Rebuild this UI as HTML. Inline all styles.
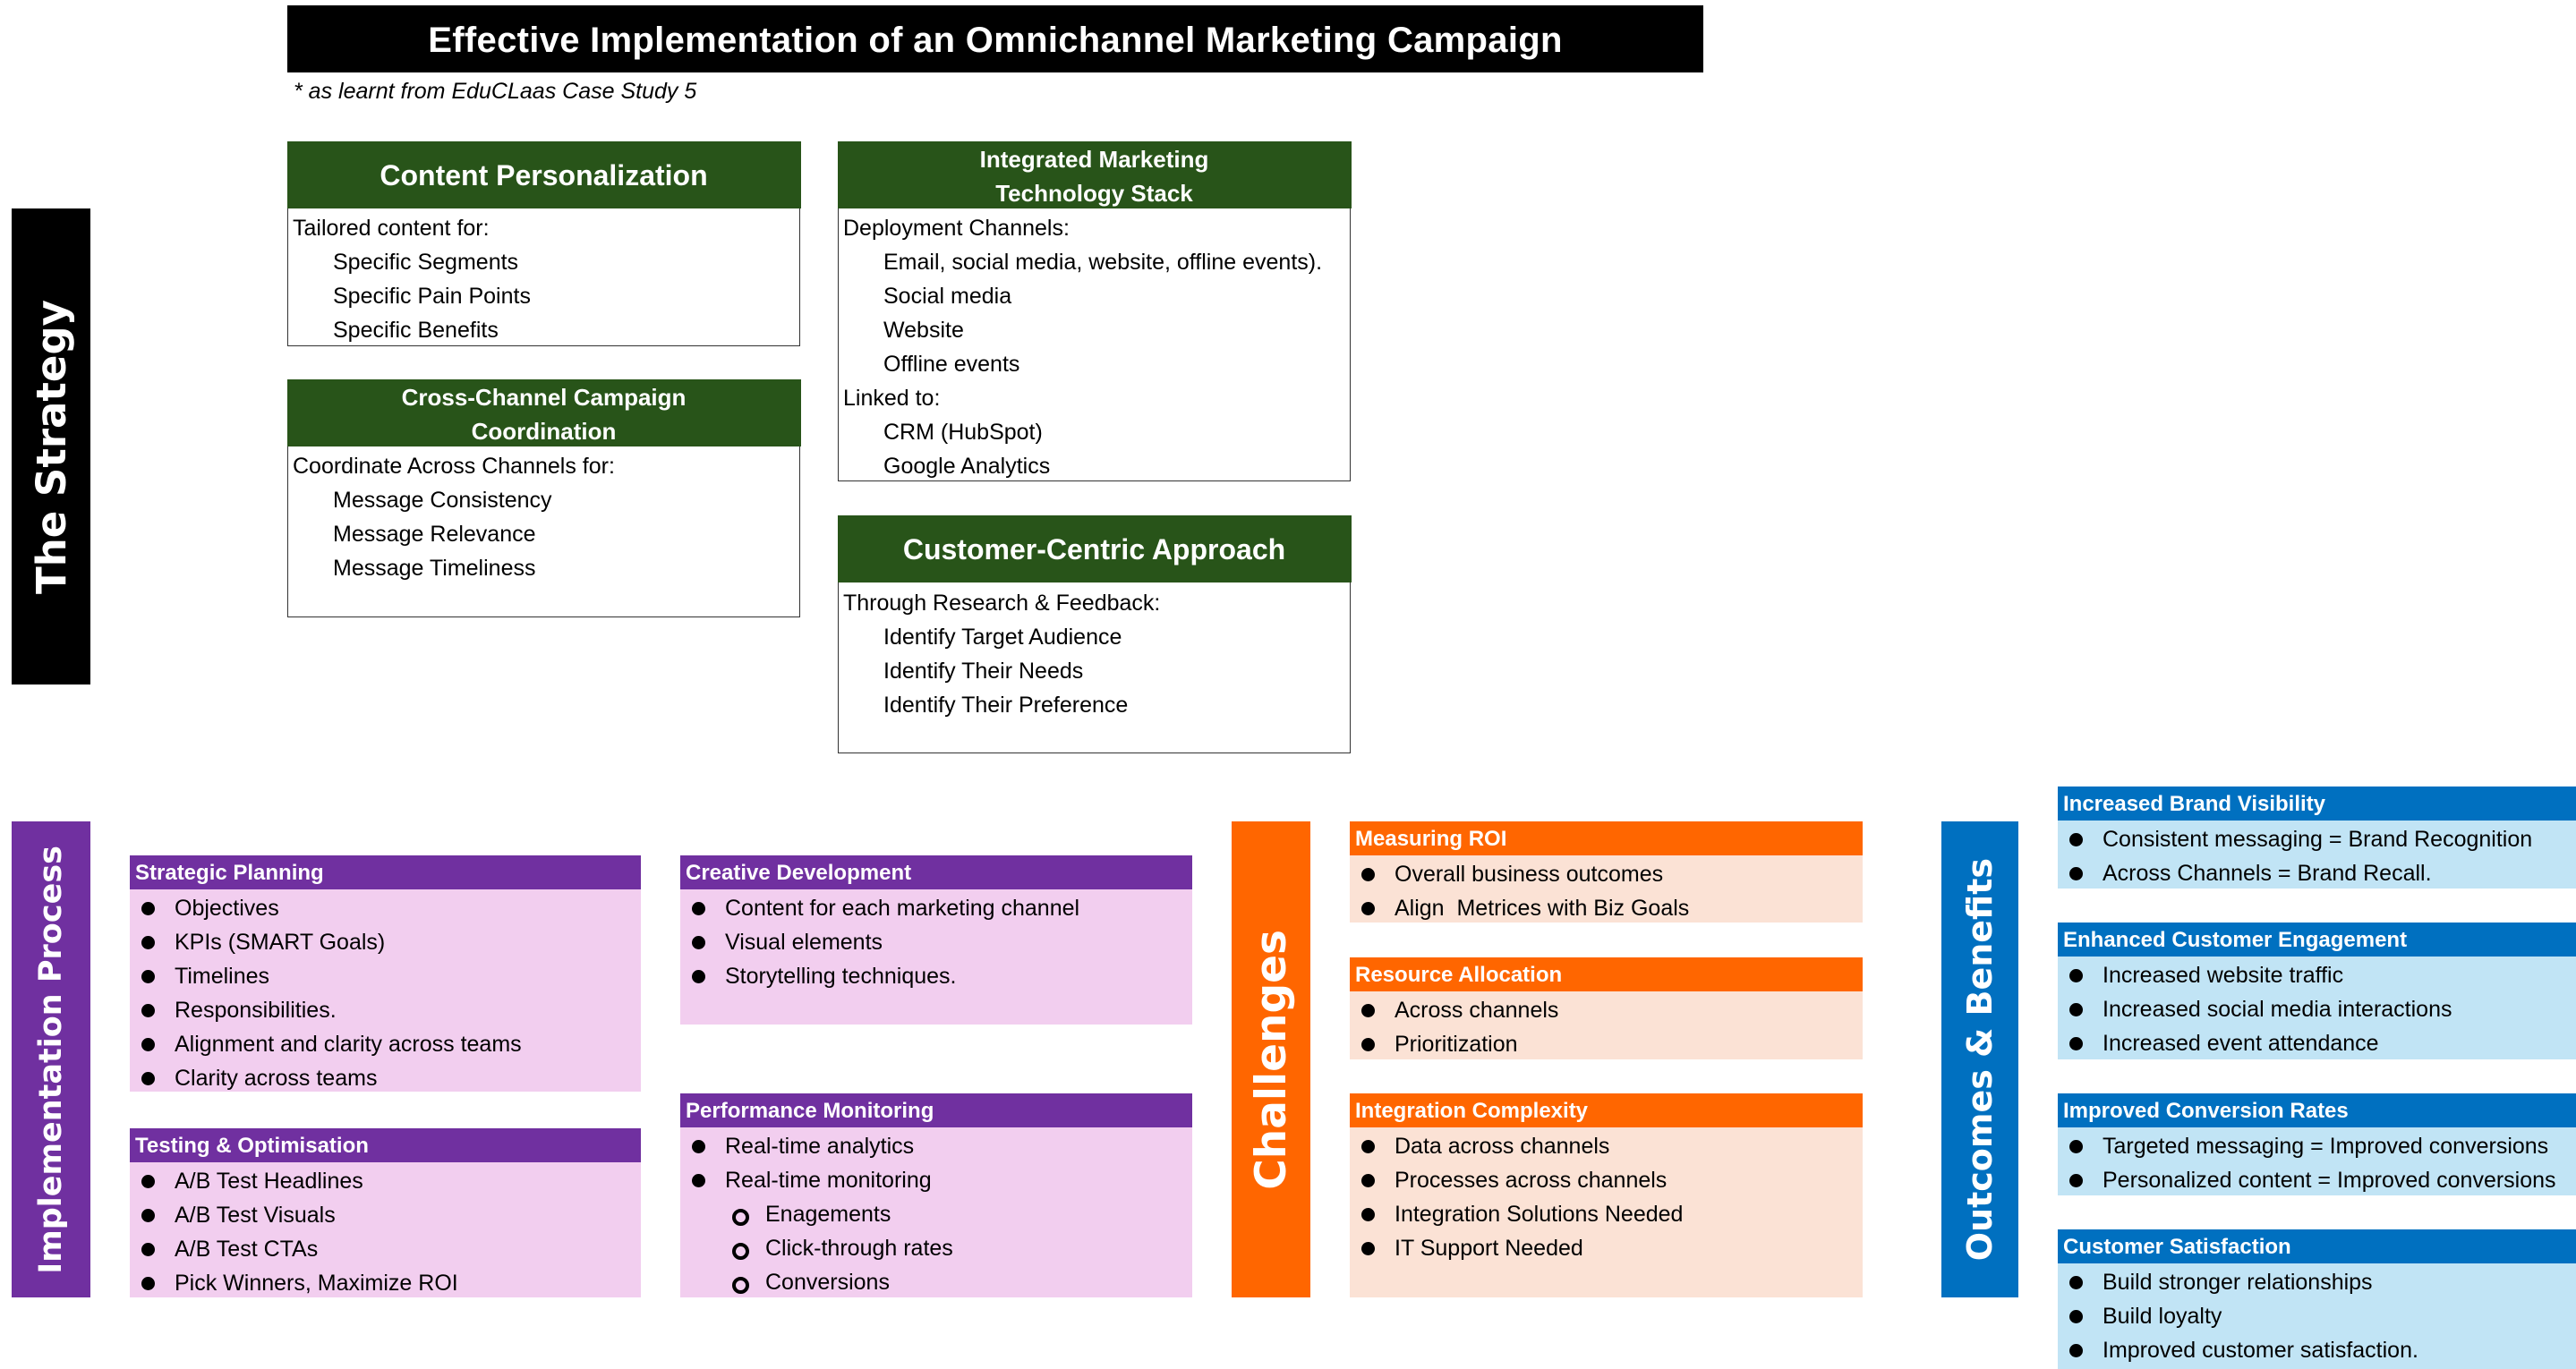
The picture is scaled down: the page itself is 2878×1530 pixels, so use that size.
<!DOCTYPE html>
<html><head><meta charset="utf-8"><style>
*{margin:0;padding:0;box-sizing:border-box}
body{width:2878px;height:1530px;background:#fff;position:relative;overflow:hidden;font-family:"Liberation Sans",sans-serif;color:#000}
.a{position:absolute}
.title{left:321px;top:6px;width:1582px;height:75px;background:#000;color:#fff;font-weight:bold;font-size:40px;letter-spacing:0.3px;display:flex;align-items:center;justify-content:center;padding-top:4px}
.sub{left:328px;top:88px;font-style:italic;font-size:25px}
.vbar{display:flex;align-items:center;justify-content:center;color:#fff}
.vbar span{writing-mode:vertical-rl;transform:rotate(180deg);font-family:"DejaVu Sans",sans-serif;font-weight:bold;white-space:nowrap}
.gbox{border:1.5px solid #333;background:#fff}
.gh{background:#285419;color:#fff;font-weight:bold;display:flex;align-items:center;justify-content:center;text-align:center;height:75px;margin:-1.5px -1.5px 0 -1.5px;padding-top:3px}
.gb{font-size:25px;line-height:38px;padding-left:5px;padding-top:3px}
.gb .i{padding-left:45px}
.box .h{height:38px;color:#fff;font-weight:bold;font-size:24px;line-height:40px;padding-left:6px;white-space:nowrap}
.box ul{list-style:none;font-size:25px;line-height:38px;padding-top:2px}
.box li{position:relative;padding-left:50px;white-space:nowrap}
.box li:before{content:"";position:absolute;left:13px;top:12px;width:15px;height:15px;border-radius:50%;background:#000}
.box li.s{padding-left:95px}
.box li.s:before{left:58px;width:11px;height:11px;top:13px;background:transparent;border:4px solid #000}
</style></head><body>
<div class="a title">Effective Implementation of an Omnichannel Marketing Campaign</div>
<div class="a sub">* as learnt from EduCLaas Case Study 5</div>

<div class="a vbar" style="left:13px;top:233px;width:88px;height:532px;background:#000"><span style="font-size:45px">The Strategy</span></div>

<div class="a gbox" style="left:321px;top:158px;width:573px;height:229px">
<div class="gh" style="font-size:32px">Content Personalization</div>
<div class="gb">Tailored content for:<div class="i">Specific Segments</div><div class="i">Specific Pain Points</div><div class="i">Specific Benefits</div></div></div>

<div class="a gbox" style="left:321px;top:424px;width:573px;height:266px">
<div class="gh" style="font-size:26px;line-height:38px">Cross-Channel Campaign<br>Coordination</div>
<div class="gb">Coordinate Across Channels for:<div class="i">Message Consistency</div><div class="i">Message Relevance</div><div class="i">Message Timeliness</div></div></div>

<div class="a gbox" style="left:936px;top:158px;width:573px;height:380px">
<div class="gh" style="font-size:26px;line-height:38px">Integrated Marketing<br>Technology Stack</div>
<div class="gb">Deployment Channels:<div class="i">Email, social media, website, offline events).</div><div class="i">Social media</div><div class="i">Website</div><div class="i">Offline events</div>Linked to:<div class="i">CRM (HubSpot)</div><div class="i">Google Analytics</div></div></div>

<div class="a gbox" style="left:936px;top:576px;width:573px;height:266px">
<div class="gh" style="font-size:32px">Customer-Centric Approach</div>
<div class="gb" style="padding-top:4px">Through Research &amp; Feedback:<div class="i">Identify Target Audience</div><div class="i">Identify Their Needs</div><div class="i">Identify Their Preference</div></div></div>

<div class="a vbar" style="left:13px;top:918px;width:88px;height:532px;background:#7030A0"><span style="font-size:35px">Implementation Process</span></div>

<div class="a box" style="left:145px;top:956px;width:571px;height:264px;background:#F2CEEF"><div class="h" style="background:#7030A0">Strategic Planning</div><ul><li>Objectives</li><li>KPIs (SMART Goals)</li><li>Timelines</li><li>Responsibilities.</li><li>Alignment and clarity across teams</li><li>Clarity across teams</li></ul></div>
<div class="a box" style="left:145px;top:1261px;width:571px;height:189px;background:#F2CEEF"><div class="h" style="background:#7030A0">Testing &amp; Optimisation</div><ul><li>A/B Test Headlines</li><li>A/B Test Visuals</li><li>A/B Test CTAs</li><li>Pick Winners, Maximize ROI</li></ul></div>
<div class="a box" style="left:760px;top:956px;width:572px;height:189px;background:#F2CEEF"><div class="h" style="background:#7030A0">Creative Development</div><ul><li>Content for each marketing channel</li><li>Visual elements</li><li>Storytelling techniques.</li></ul></div>
<div class="a box" style="left:760px;top:1222px;width:572px;height:228px;background:#F2CEEF"><div class="h" style="background:#7030A0">Performance Monitoring</div><ul><li>Real-time analytics</li><li>Real-time monitoring</li><li class="s">Enagements</li><li class="s">Click-through rates</li><li class="s">Conversions</li></ul></div>

<div class="a vbar" style="left:1376px;top:918px;width:88px;height:532px;background:#FF6600"><span style="font-size:47px">Challenges</span></div>

<div class="a box" style="left:1508px;top:918px;width:573px;height:113px;background:#FBE2D5"><div class="h" style="background:#FF6600">Measuring ROI</div><ul><li>Overall business outcomes</li><li>Align&nbsp; Metrices with Biz Goals</li></ul></div>
<div class="a box" style="left:1508px;top:1070px;width:573px;height:114px;background:#FBE2D5"><div class="h" style="background:#FF6600">Resource Allocation</div><ul><li>Across channels</li><li>Prioritization</li></ul></div>
<div class="a box" style="left:1508px;top:1222px;width:573px;height:228px;background:#FBE2D5"><div class="h" style="background:#FF6600">Integration Complexity</div><ul><li>Data across channels</li><li>Processes across channels</li><li>Integration Solutions Needed</li><li>IT Support Needed</li></ul></div>

<div class="a vbar" style="left:2169px;top:918px;width:86px;height:532px;background:#0070C0"><span style="font-size:38px">Outcomes &amp; Benefits</span></div>

<div class="a box" style="left:2299px;top:879px;width:579px;height:114px;background:#C1E4F5"><div class="h" style="background:#0070C0">Increased Brand Visibility</div><ul><li>Consistent messaging = Brand Recognition</li><li>Across Channels = Brand Recall.</li></ul></div>
<div class="a box" style="left:2299px;top:1031px;width:579px;height:153px;background:#C1E4F5"><div class="h" style="background:#0070C0">Enhanced Customer Engagement</div><ul><li>Increased website traffic</li><li>Increased social media interactions</li><li>Increased event attendance</li></ul></div>
<div class="a box" style="left:2299px;top:1222px;width:579px;height:114px;background:#C1E4F5"><div class="h" style="background:#0070C0">Improved Conversion Rates</div><ul><li>Targeted messaging = Improved conversions</li><li>Personalized content = Improved conversions</li></ul></div>
<div class="a box" style="left:2299px;top:1374px;width:579px;height:156px;background:#C1E4F5"><div class="h" style="background:#0070C0">Customer Satisfaction</div><ul><li>Build stronger relationships</li><li>Build loyalty</li><li>Improved customer satisfaction.</li></ul></div>
</body></html>
